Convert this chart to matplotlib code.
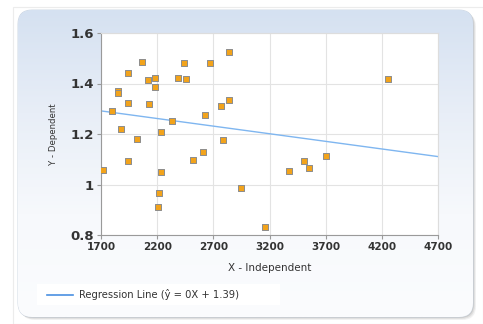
import numpy as np
import matplotlib
matplotlib.use('Agg')
import matplotlib.pyplot as plt
from matplotlib.patches import FancyBboxPatch, Rectangle
from matplotlib.colors import LinearSegmentedColormap

# scatter data
x_vals = [1721, 1795, 1849, 1849, 1944, 1944, 1879, 1944, 2024, 2069,
          2120, 2123, 2179, 2179, 2233, 2230, 2218, 2206, 2334, 2387,
          2438, 2456, 2521, 2605, 2626, 2673, 2765, 2783, 2840, 2840,
          2950, 3164, 3376, 3510, 3555, 3703, 4251]
y_vals = [1.059, 1.292, 1.371, 1.362, 1.441, 1.321, 1.219, 1.092, 1.180, 1.485,
          1.412, 1.318, 1.423, 1.387, 1.207, 1.049, 0.965, 0.911, 1.252, 1.423,
          1.481, 1.419, 1.096, 1.129, 1.277, 1.481, 1.310, 1.176, 1.525, 1.336,
          0.988, 0.832, 1.053, 1.094, 1.067, 1.111, 1.419]

# regression line parameters
intercept = 1.394
slope = -0.0000603
x_ticks = [1700, 2200, 2700, 3200, 3700, 4200, 4700]
y_ticks = [0.8, 1.0, 1.2, 1.4, 1.6]
y_tick_labels = ['0.8', '1', '1.2', '1.4', '1.6']

W, H = 483, 324
fig = plt.figure(figsize=(W / 100, H / 100), dpi=100)
fig.patch.set_facecolor('white')

# background card with gradient + shadow
bg = fig.add_axes([0, 0, 1, 1])
bg.set_xlim(0, W)
bg.set_ylim(H, 0)
bg.axis('off')
bg.add_patch(Rectangle((13, 7), 470, 317, fill=False, edgecolor='#ececec', lw=0.8))
for i, a in enumerate([0.10, 0.14, 0.20]):
    bg.add_patch(FancyBboxPatch((18 + 3 - i, 10 + 3 - i), 455, 307,
                                boxstyle='round,pad=0,rounding_size=14',
                                facecolor='#7a7a7a', edgecolor='none', alpha=a))
card = FancyBboxPatch((18, 10), 455, 307, boxstyle='round,pad=0,rounding_size=14',
                      facecolor='none', edgecolor='#c8d2de', lw=0.6)
bg.add_patch(card)
grad = np.linspace(0, 1, 256).reshape(-1, 1)
cmap = LinearSegmentedColormap.from_list('g', ['#d5e1f1', '#e8eef7', '#f7f9fc', '#fbfcfe'])
im = bg.imshow(grad, cmap=cmap, extent=[18, 473, 317, 10], aspect='auto', zorder=1)
im.set_clip_path(card)
bg.add_patch(Rectangle((37, 284), 243, 21, facecolor='white', edgecolor='none', zorder=2))
bg.plot([47, 73], [294.5, 294.5], color='#4a90e2', lw=1.2, zorder=3)
bg.text(79, 294.5, 'Regression Line (ŷ = 0X + 1.39)', fontsize=7.2, color='#333333',
        va='center', ha='left', zorder=3)

# main plot
ax = fig.add_axes([101 / W, 1 - 235 / H, 337 / W, 202 / H])
ax.set_facecolor('white')
ax.scatter(x_vals, y_vals, marker='s', s=17, facecolor='#f2a31b', edgecolor='#8c8c8c',
           linewidths=0.7, zorder=3)
xl = np.array([1700, 4700])
ax.plot(xl, intercept + slope * xl, color='#7fb6f0', lw=1.0, zorder=2)
ax.set_xlim(1700, 4700)
ax.set_ylim(0.8, 1.6)
ax.set_xticks(x_ticks)
ax.set_yticks(y_ticks)
ax.set_yticklabels(y_tick_labels)
ax.grid(True, color='#e3e3e3', lw=0.8, zorder=0)
ax.set_axisbelow(True)
for s in ['top', 'right']:
    ax.spines[s].set_color('#dddddd')
for s in ['left', 'bottom']:
    ax.spines[s].set_color('#9a9a9a')
ax.tick_params(axis='x', labelsize=7.5, colors='#9a9a9a', labelcolor='#333333', length=3, pad=2)
ax.tick_params(axis='y', labelsize=9.5, colors='#9a9a9a', labelcolor='#333333', length=3, pad=2)
for lab in ax.get_xticklabels() + ax.get_yticklabels():
    lab.set_fontweight('bold')
ax.set_xlabel('X - Independent', fontsize=7.5, color='#333333', labelpad=8)
ax.set_ylabel('Y - Dependent', fontsize=6.8, color='#333333', labelpad=9,
              fontstretch='condensed')

fig.savefig('out.png', dpi=100)
